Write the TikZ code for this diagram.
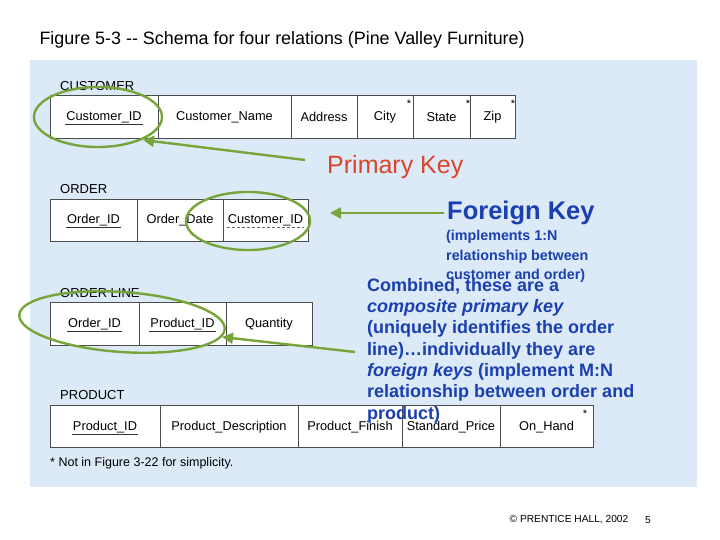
\documentclass[tikz,border=0pt]{standalone}
\usepackage{fontspec}
\setmainfont{Liberation Sans}
\usetikzlibrary{arrows.meta}
\definecolor{bgblue}{HTML}{DCEAF7}
\definecolor{kgreen}{HTML}{78A53A}
\definecolor{kblue}{HTML}{1A3FB0}
\definecolor{kred}{HTML}{D9442A}
\begin{document}
\begin{tikzpicture}[x=1pt,y=-1pt,
  cellbox/.style={draw=black!70,line width=0.6pt,fill=white},
  attr/.style={font=\fontsize{12.8}{14}\selectfont,inner sep=1pt},
  tlabel/.style={font=\fontsize{13}{14}\selectfont,anchor=west,inner sep=0pt},
  pk/.style={draw=black!80,line width=0.5pt},
  fk/.style={draw=black!60,line width=0.5pt,dash pattern=on 3pt off 2pt},
  keyring/.style={draw=kgreen,line width=2.4pt},
  keyarrow/.style={draw=kgreen,line width=2.4pt,-{Triangle[length=11pt,width=11pt]}},
  star/.style={font=\fontsize{11}{11}\selectfont,inner sep=0pt}]
\useasboundingbox (0,0) rectangle (720,540);
\fill[bgblue] (30,60) rectangle (697,487);
\node[anchor=west,font=\fontsize{17.9}{20}\selectfont] (title) at (36,40) {Figure 5-3 -{}- Schema for four relations (Pine Valley Furniture)};
% CUSTOMER
\node[tlabel] (lc) at (60,86) {CUSTOMER};
\foreach \a/\b/\n/\t in {50/158/c1/Customer\_ID,158/291/c2/Customer\_Name,291/357/c3/Address,357/413/c4/City,413/470/c5/State,470/515/c6/Zip}{
  \draw[cellbox] (\a,95) rectangle (\b,138);
  \node[attr] (\n) at ({(\a+\b)/2},117) {\t};}
\draw[pk] (c1.south west) -- (c1.south east);
\node[star] (s1) at (409,104) {*};
\node[star] (s2) at (468,104) {*};
\node[star] (s3) at (513,104) {*};
% ORDER
\node[tlabel] (lo) at (60,189) {ORDER};
\foreach \a/\b/\n/\t in {50/137/o1/Order\_ID,137/223/o2/Order\_Date,223/308/o3/Customer\_ID}{
  \draw[cellbox] (\a,199) rectangle (\b,241);
  \node[attr] (\n) at ({(\a+\b)/2},220) {\t};}
\draw[pk] (o1.south west) -- (o1.south east);
\draw[fk] (o3.south west) -- (o3.south east);
% ORDER LINE
\node[tlabel] (ll) at (60,293) {ORDER LINE};
\foreach \a/\b/\n/\t in {50/139/l1/Order\_ID,139/226/l2/Product\_ID,226/312/l3/Quantity}{
  \draw[cellbox] (\a,302) rectangle (\b,345);
  \node[attr] (\n) at ({(\a+\b)/2},324) {\t};}
\draw[pk] (l1.south west) -- (l1.south east);
\draw[pk] (l2.south west) -- (l2.south east);
% PRODUCT
\node[tlabel] (lp) at (60,395) {PRODUCT};
\foreach \a/\b/\n/\t in {50/160/p1/Product\_ID,160/298/p2/Product\_Description,298/402/p3/Product\_Finish,402/500/p4/Standard\_Price,500/593/p5/On\_Hand}{
  \draw[cellbox] (\a,405) rectangle (\b,447);
  \node[attr] (\n) at ({(\a+\b)/2},427) {\t};}
\draw[pk] (p1.south west) -- (p1.south east);
\node[star] (s4) at (585,414) {*};
\node[anchor=west,font=\fontsize{12.5}{14}\selectfont,inner sep=0pt] (foot) at (50,463) {* Not in Figure 3-22 for simplicity.};
% ellipses
\draw[keyring] (98,117) ellipse [x radius=64, y radius=30];
\draw[keyring] (248,221) ellipse [x radius=62, y radius=29];
\draw[keyring,rotate around={-4:(122,322)}] (122,322) ellipse [x radius=103, y radius=30];
% labels
\node[anchor=west,text=kred,font=\fontsize{25}{28}\selectfont,inner sep=0pt] (pkl) at (327,167) {Primary Key};
\node[anchor=west,text=kblue,font=\fontsize{25.5}{28}\selectfont\bfseries,inner sep=0pt] (fkl) at (447,213) {Foreign Key};
\node[anchor=north west,text=kblue,font=\fontsize{14.3}{19.5}\selectfont\bfseries,align=left,inner sep=0pt] (fkn) at (446,230) {(implements 1:N\\relationship between\\customer and order)};
\node[anchor=north west,text=kblue,font=\fontsize{18}{21.3}\selectfont\bfseries,align=left,inner sep=0pt] (cmb) at (367,278) {Combined, these are a\\\textit{composite primary key}\\(uniquely identifies the order\\line)\dots individually they are\\\textit{foreign keys} (implement M:N\\relationship between order and\\product)};
% arrows
\coordinate (a1) at (305,160);
\coordinate (a1e) at (143,140);
\draw[keyarrow] (a1) -- (a1e);
\coordinate (a2) at (444,213);
\coordinate (a2e) at (330,213);
\draw[keyarrow] (a2) -- (a2e);
\coordinate (a3) at (355,352);
\coordinate (a3e) at (222,337);
\draw[keyarrow] (a3) -- (a3e);
% footer
\node[font=\fontsize{10.2}{12}\selectfont] (copy) at (569,520) {© PRENTICE HALL, 2002};
\node[font=\fontsize{10.2}{12}\selectfont] (pg) at (648,520) {5};
\end{tikzpicture}
\end{document}
